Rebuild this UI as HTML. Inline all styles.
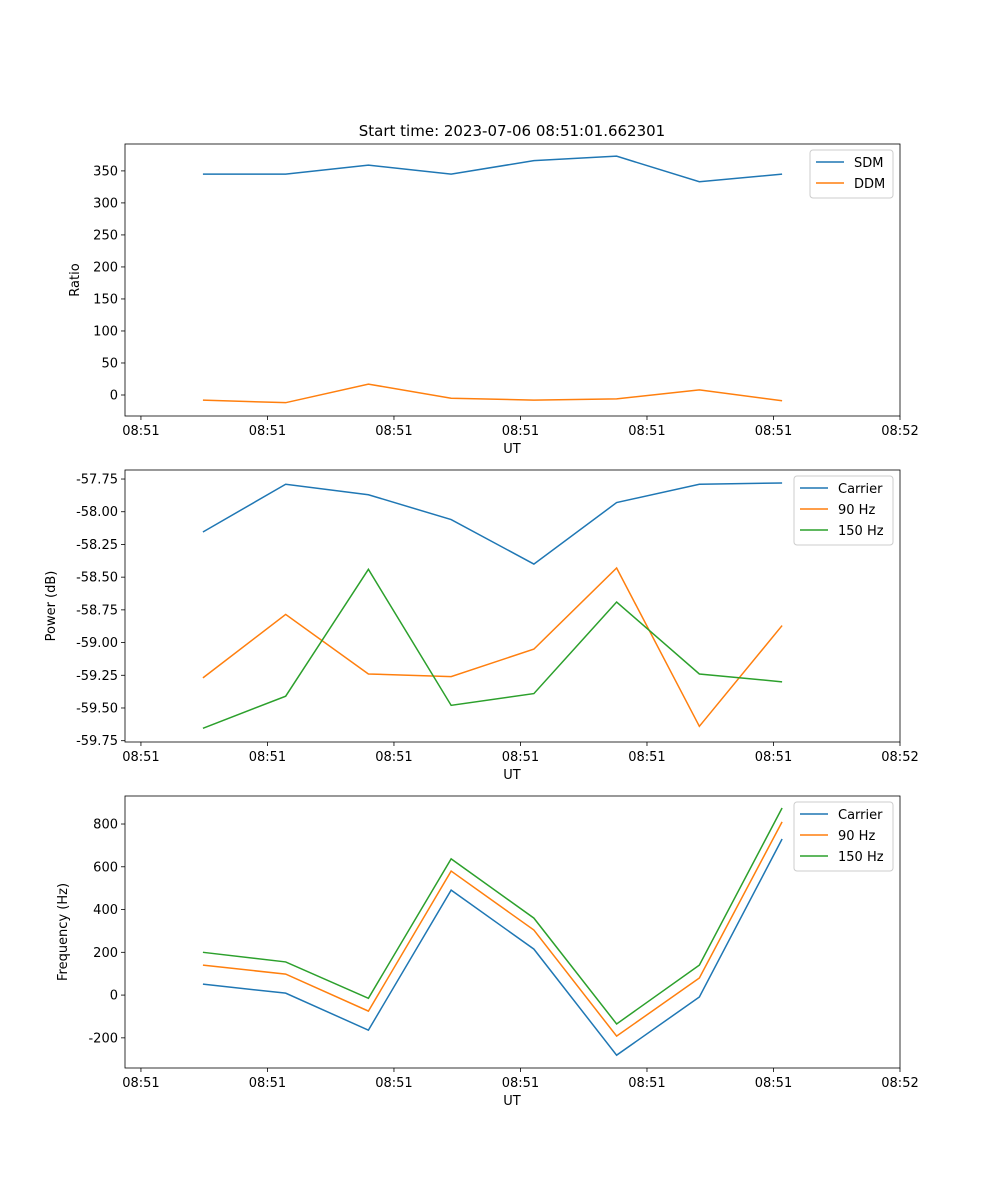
<!DOCTYPE html>
<html><head><meta charset="utf-8"><style>
body{margin:0;background:#fff}
svg{display:block;font-family:"DejaVu Sans","Liberation Sans",sans-serif}
</style></head><body>
<svg id="fig" width="1000" height="1200" xmlns="http://www.w3.org/2000/svg">
<rect width="1000" height="1200" fill="#fff"/>
<text x="512" y="136" font-size="15" text-anchor="middle">Start time: 2023-07-06 08:51:01.662301</text>
</svg>
<script>
const xTickLabels=["08:51","08:51","08:51","08:51","08:51","08:51","08:52"];
const times=[0.49,1.144,1.798,2.452,3.106,3.76,4.414,5.068];
const sdm=[345,345,359,345,366,373,333,345];
const ddm=[-8,-12,17,-5,-8,-6,8,-9];
const carrierPow=[-58.155,-57.79,-57.87,-58.06,-58.40,-57.93,-57.79,-57.78];
const hz90Pow=[-59.27,-58.785,-59.24,-59.26,-59.05,-58.43,-59.64,-58.87];
const hz150Pow=[-59.655,-59.41,-58.44,-59.48,-59.39,-58.69,-59.24,-59.30];
const carrierFreq=[51,9,-164,491,215,-281,-9,730];
const hz90Freq=[140,98,-75,580,304,-192,80,810];
const hz150Freq=[200,155,-15,637,360,-135,140,875];
const yTicks1=[0,50,100,150,200,250,300,350];
const yTicks2=[-59.75,-59.5,-59.25,-59,-58.75,-58.5,-58.25,-58,-57.75];
const yTicks3=[-200,0,200,400,600,800];

const NS="http://www.w3.org/2000/svg";
const svg=document.getElementById('fig');
function el(t,a,p){const e=document.createElementNS(NS,t);for(const k in a)e.setAttribute(k,a[k]);(p||svg).appendChild(e);return e;}
const X0=125,X1=900,T0=-0.126,T1=6;
function xs(t){return X0+(t-T0)/(T1-T0)*(X1-X0);}
const C=["#1f77b4","#ff7f0e","#2ca02c"];
function panel(name,top,bot,ymin,ymax,ticks,fmt,ylabel,series,labels,leg){
  const g=el('g',{});
  
  
  const ys=v=>bot-(v-ymin)/(ymax-ymin)*(bot-top);
  ticks.forEach(v=>{const y=ys(v);
    el('line',{x1:X0-4,x2:X0,y1:y,y2:y,stroke:'#000','stroke-width':0.8},g);
    const t=el('text',{x:X0-7,y:y+4.5,'font-size':13,'text-anchor':'end'},g);t.textContent=fmt(v);
    });
  xTickLabels.forEach((l,i)=>{const x=xs(i);
    el('line',{x1:x,x2:x,y1:bot,y2:bot+4,stroke:'#000','stroke-width':0.8},g);
    const t=el('text',{x:x,y:bot+19,'font-size':13,'text-anchor':'middle'},g);t.textContent=l;
    });
  const xl=el('text',{x:512,y:bot+37,'font-size':13,'text-anchor':'middle'},g);xl.textContent='UT';
  
  const yl=el('text',{x:0,y:0,'font-size':13,'text-anchor':'middle',transform:`translate(${leg.yx},${(top+bot)/2}) rotate(-90)`},g);yl.textContent=ylabel;
  
  series.forEach((s,k)=>{
    const pl=el('polyline',{points:s.map((v,i)=>xs(times[i])+','+ys(v)).join(' '),fill:'none',stroke:C[k],'stroke-width':1.5},g);
    
    
  });
  el('rect',{x:X0,y:top,width:X1-X0,height:bot-top,fill:'none',stroke:'#000','stroke-width':0.8},g);
  const lg=el('g',{},g);
  
  
  el('rect',{x:leg.x,y:top+6,width:893-leg.x,height:labels.length*21+6,rx:3,fill:'#fff','fill-opacity':0.8,stroke:'#ccc'},lg);
  labels.forEach((l,k)=>{const y=top+18+k*21;
    el('line',{x1:leg.x+6,x2:leg.x+34,y1:y,y2:y,stroke:C[k],'stroke-width':1.5},lg);
    const t=el('text',{x:leg.x+44,y:y+5,'font-size':13},lg);t.textContent=l;
    });
}
panel('ratio-panel',144,416,-32.8,392,yTicks1,v=>String(v),'Ratio',[sdm,ddm],['SDM','DDM'],{x:810,yx:79});
panel('power-panel',470,742,-59.76,-57.681,yTicks2,v=>v.toFixed(2),'Power (dB)',[carrierPow,hz90Pow,hz150Pow],['Carrier','90 Hz','150 Hz'],{x:794,yx:55});
panel('frequency-panel',796,1068,-341,931,yTicks3,v=>String(v),'Frequency (Hz)',[carrierFreq,hz90Freq,hz150Freq],['Carrier','90 Hz','150 Hz'],{x:794,yx:67});
</script>
</body></html>
